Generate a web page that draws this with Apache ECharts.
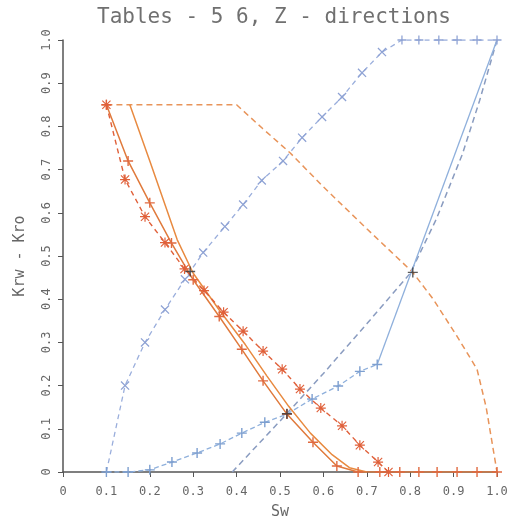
<!DOCTYPE html>
<html>
<head>
<meta charset="utf-8" />
<script src="https://cdn.jsdelivr.net/npm/echarts@6/dist/echarts.min.js"></script>
<style>
  html, body { margin: 0; padding: 0; background: #fff; }
  #chart { width: 513px; height: 525px; }
</style>
</head>
<body>
<div id="chart"></div>
<script>
// tick values on both axes
var xTicks = [0, 0.1, 0.2, 0.3, 0.4, 0.5, 0.6, 0.7, 0.8, 0.9, 1.0];
var yTicks = [0, 0.1, 0.2, 0.3, 0.4, 0.5, 0.6, 0.7, 0.8, 0.9, 1.0];

// upper blue dashed curve (x markers, then + on the plateau)
var krwUpper = [[0.1, 0], [0.143, 0.2], [0.189, 0.3], [0.235, 0.376], [0.281, 0.446], [0.323, 0.508],
  [0.373, 0.568], [0.415, 0.619], [0.458, 0.675], [0.507, 0.72], [0.551, 0.774], [0.597, 0.822],
  [0.643, 0.868], [0.689, 0.924], [0.735, 0.972], [0.781, 1.0], [0.82, 1.0], [0.866, 1.0],
  [0.908, 1.0], [0.954, 1.0], [1.0, 1.0]];
// lower blue curve with + markers, then solid to (1,1)
var krwLower = [[0.1, 0], [0.15, 0], [0.2, 0.005], [0.251, 0.023], [0.309, 0.044], [0.362, 0.065],
  [0.412, 0.09], [0.465, 0.115], [0.516, 0.134], [0.574, 0.169], [0.634, 0.199], [0.684, 0.233],
  [0.724, 0.249]];
var krwLowerEnd = [[0.724, 0.249], [1.0, 1.0]];
// blue dashed curve, no markers
var krwPlain = [[0.39, 0], [0.5, 0.118], [0.6, 0.228], [0.7, 0.343], [0.8, 0.46], [0.86, 0.585],
  [0.92, 0.735], [0.96, 0.86], [1.0, 1.0]];
// orange dashed curve, no markers
var kroPlain = [[0.1, 0.85], [0.4, 0.85], [0.46, 0.795], [0.523, 0.739], [0.6, 0.66], [0.7, 0.563],
  [0.806, 0.462], [0.853, 0.4], [0.908, 0.314], [0.954, 0.238], [0.975, 0.15], [1.0, 0]];
// red dashed curve with star markers
var kroDashed = [[0.1, 0.85], [0.143, 0.677], [0.189, 0.591], [0.235, 0.531], [0.28, 0.47],
  [0.325, 0.42], [0.37, 0.37], [0.415, 0.326], [0.461, 0.28], [0.505, 0.238], [0.546, 0.192],
  [0.594, 0.148], [0.643, 0.107], [0.684, 0.062], [0.726, 0.023], [0.75, 0]];
// orange solid curve with + markers
var kroSolidA = [[0.1, 0.85], [0.15, 0.72], [0.2, 0.623], [0.25, 0.53], [0.3, 0.445], [0.36, 0.36],
  [0.412, 0.284], [0.461, 0.211], [0.516, 0.134], [0.576, 0.069], [0.631, 0.014], [0.68, 0],
  [0.73, 0], [0.776, 0], [0.82, 0], [0.862, 0], [0.908, 0], [0.954, 0], [1.0, 0]];
// orange solid curve, no markers
var kroSolidB = [[0.154, 0.85], [0.2, 0.72], [0.263, 0.538], [0.3, 0.46], [0.36, 0.375],
  [0.42, 0.295], [0.47, 0.222], [0.52, 0.152], [0.57, 0.09], [0.62, 0.04], [0.66, 0.01], [0.7, 0]];
// black crossing marks
var crossings = [[0.293, 0.464], [0.516, 0.135], [0.806, 0.462]];

var plus = 'path://M4.3,0h1.4v10h-1.4z M0,4.3h10v1.4h-10z';
var cross = 'path://M0,1L1,0L10,9L9,10Z M9,0L10,1L1,10L0,9Z';
var star = 'path://M4.4,0h1.2v10h-1.2z M0,4.4h10v1.2h-10z M0.5,1.3L1.3,0.5L9.5,8.7L8.7,9.5Z M8.7,0.5L9.5,1.3L1.3,9.5L0.5,8.7Z';

var font = '"DejaVu Sans Mono", monospace';

var chart = echarts.init(document.getElementById('chart'));

var option = {
  backgroundColor: '#fff',
  animation: false,
  title: {
    text: 'Tables - 5 6, Z - directions',
    left: 92,
    top: 2,
    textStyle: { fontFamily: font, fontSize: 21, fontWeight: 'normal', color: '#707070' }
  },
  grid: { left: 63, right: 16, top: 40, bottom: 52 },
  xAxis: {
    type: 'value', min: 0, max: 1, interval: 0.1,
    name: 'Sw', nameLocation: 'middle', nameGap: 33,
    nameTextStyle: { fontFamily: font, fontSize: 15, color: '#666' },
    axisLine: { lineStyle: { color: '#555', width: 1.5 } },
    axisTick: { length: 5, lineStyle: { color: '#555' } },
    axisLabel: {
      fontFamily: font, fontSize: 12, color: '#666', margin: 14,
      formatter: function (v) { return v === 0 ? '0' : v.toFixed(1); }
    },
    splitLine: { show: false }
  },
  yAxis: {
    type: 'value', min: 0, max: 1, interval: 0.1,
    name: 'Krw - Kro', nameLocation: 'middle', nameGap: 35, nameRotate: 90,
    nameTextStyle: { fontFamily: font, fontSize: 15, color: '#666' },
    axisLine: { show: true, lineStyle: { color: '#555', width: 1.5 } },
    axisTick: { show: true, length: 5, lineStyle: { color: '#555' } },
    axisLabel: {
      fontFamily: font, fontSize: 12, color: '#666', rotate: 90, margin: 10,
      formatter: function (v) { return v === 0 ? '0' : v.toFixed(1); }
    },
    splitLine: { show: false }
  },
  series: [
    {
      type: 'line', data: kroPlain, showSymbol: false,
      lineStyle: { color: '#e8945a', width: 1.5, type: [6, 4] }, z: 2
    },
    {
      type: 'line', data: krwPlain, showSymbol: false,
      lineStyle: { color: '#8a9cc0', width: 1.5, type: [6, 4] }, z: 2
    },
    {
      type: 'line',
      data: krwUpper.map(function (p, i) {
        return { value: p, symbol: i === 0 ? 'none' : (p[1] >= 1 ? plus : cross) };
      }),
      symbolSize: 9,
      lineStyle: { color: '#9aaedc', width: 1.3, type: [5, 4] },
      itemStyle: { color: '#8ea2d4' }, z: 3
    },
    {
      type: 'line', data: krwLower, symbol: plus, symbolSize: 10,
      lineStyle: { color: '#8fb0dc', width: 1.3, type: [5, 3] },
      itemStyle: { color: '#7d9fd0' }, z: 3
    },
    {
      type: 'line', data: krwLowerEnd, showSymbol: false,
      lineStyle: { color: '#8fb0dc', width: 1.3 }, z: 3
    },
    {
      type: 'line', data: kroSolidB, showSymbol: false,
      lineStyle: { color: '#e88a40', width: 1.5 }, z: 4
    },
    {
      type: 'line', data: kroSolidA, symbol: plus, symbolSize: 10,
      lineStyle: { color: '#e07a3c', width: 1.5 },
      itemStyle: { color: '#e06a40' }, z: 4
    },
    {
      type: 'line', data: kroDashed, symbol: star, symbolSize: 10,
      lineStyle: { color: '#e0603a', width: 1.4, type: [5, 4] },
      itemStyle: { color: '#e0603a' }, z: 4
    },
    {
      type: 'scatter', data: crossings, symbol: plus, symbolSize: 10,
      itemStyle: { color: '#333' }, z: 5
    }
  ]
};

chart.setOption(option);
</script>
</body>
</html>
